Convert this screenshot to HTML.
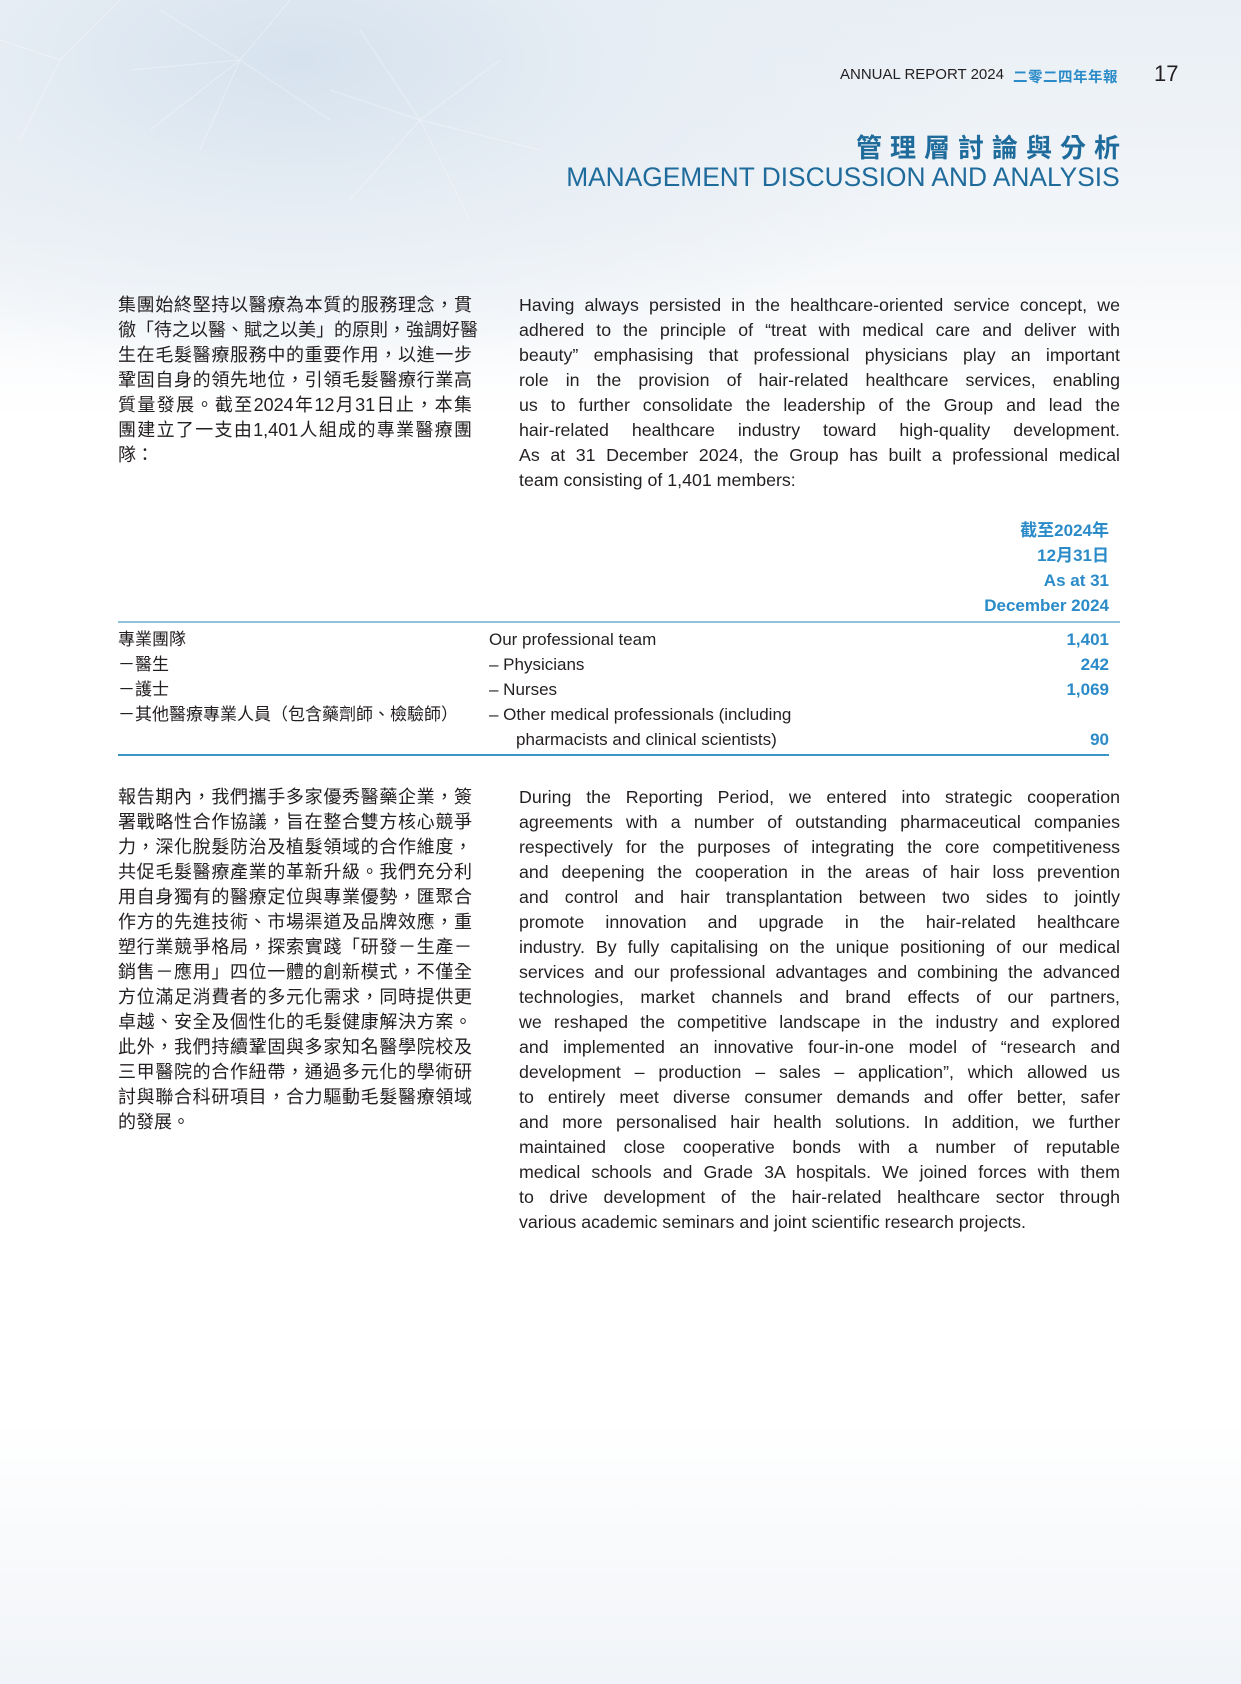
<!DOCTYPE html>
<html><head><meta charset="utf-8"><style>
*{margin:0;padding:0;box-sizing:border-box}
html,body{width:1241px;height:1684px;overflow:hidden}
body{position:relative;background:#fff;font-family:"Liberation Sans","Noto Sans CJK TC",sans-serif;color:#231f20}
.bg{position:absolute;left:0;top:0;width:1241px;height:420px;background:radial-gradient(ellipse 700px 330px at 300px 60px,#d6e2ee 0%,#e6edf4 45%,rgba(255,255,255,0) 100%),linear-gradient(180deg,#e9eff5 0%,#f2f5f8 50%,#fff 100%)}
.bg2{position:absolute;left:0;top:1420px;width:1241px;height:264px;background:linear-gradient(180deg,#fff 0%,#f1f4f8 100%)}
.a{position:absolute;white-space:nowrap}
.zh{font-family:"Liberation Sans","Noto Sans CJK TC",sans-serif}
.ln{position:absolute;height:25px;line-height:25px;font-size:17.5px;text-align:justify;text-align-last:justify;white-space:nowrap;overflow:visible}
.ln.l{text-align-last:left}
.zl{left:118px;width:354px;font-size:18px;letter-spacing:0}
.el{left:519px;width:601px;font-size:17.8px}
.b{color:#2a8bc8;font-weight:bold}
.r{position:absolute;font-size:17px;line-height:25px}
</style></head><body>
<div class="bg"></div><div class="bg2"></div>
<svg style="position:absolute;left:0;top:0" width="700" height="300">
<g stroke="#ffffff" stroke-opacity="0.35" stroke-width="1" fill="none">
<path d="M240 60 L160 10 M240 60 L130 70 M240 60 L200 150 M240 60 L290 0 M240 60 L330 120 M240 60 L150 130"/>
<path d="M420 120 L360 30 M420 120 L500 60 M420 120 L540 150 M420 120 L350 200 M420 120 L470 220 M420 120 L330 90"/>
<path d="M60 60 L0 40 M60 60 L120 0 M60 60 L20 140"/>
</g></svg>
<div class="a" style="left:840px;top:66px;font-size:15px;">ANNUAL REPORT 2024</div>
<div class="a zh" style="left:1013px;top:66px;font-size:14.5px;color:#2a8bc8;font-weight:bold;letter-spacing:0.5px">二零二四年年報</div>
<div class="a" style="left:1154px;top:61px;font-size:22px;">17</div>
<div class="a zh" style="right:121px;top:133px;font-size:26px;line-height:30px;color:#1f6c9c;font-weight:bold;letter-spacing:8px;margin-right:-8px">管理層討論與分析</div>
<div class="a" style="right:121px;top:161px;font-size:27px;line-height:32px;color:#1f6c9c;transform:scaleX(0.975);transform-origin:right center">MANAGEMENT DISCUSSION AND ANALYSIS</div>

<!-- para 1 zh -->
<div class="ln zl" style="top:293px">集團始終堅持以醫療為本質的服務理念，貫</div>
<div class="ln zl" style="top:318px">徹「待之以醫、賦之以美」的原則，強調好醫</div>
<div class="ln zl" style="top:343px">生在毛髮醫療服務中的重要作用，以進一步</div>
<div class="ln zl" style="top:368px">鞏固自身的領先地位，引領毛髮醫療行業高</div>
<div class="ln zl" style="top:393px">質量發展。截至2024年12月31日止，本集</div>
<div class="ln zl" style="top:418px">團建立了一支由1,401人組成的專業醫療團</div>
<div class="ln zl l" style="top:443px">隊：</div>
<!-- para 1 en -->
<div class="ln el" style="top:293px">Having always persisted in the healthcare-oriented service concept, we</div>
<div class="ln el" style="top:318px">adhered to the principle of “treat with medical care and deliver with</div>
<div class="ln el" style="top:343px">beauty” emphasising that professional physicians play an important</div>
<div class="ln el" style="top:368px">role in the provision of hair-related healthcare services, enabling</div>
<div class="ln el" style="top:393px">us to further consolidate the leadership of the Group and lead the</div>
<div class="ln el" style="top:418px">hair-related healthcare industry toward high-quality development.</div>
<div class="ln el" style="top:443px">As at 31 December 2024, the Group has built a professional medical</div>
<div class="ln el l" style="top:468px">team consisting of 1,401 members:</div>

<!-- table -->
<div class="r b" style="right:132px;top:518px">截至2024年</div>
<div class="r b" style="right:132px;top:543px">12月31日</div>
<div class="r b" style="right:132px;top:568px">As at 31</div>
<div class="r b" style="right:132px;top:593px">December 2024</div>
<div style="position:absolute;left:118px;top:621px;width:1002px;height:2px;background:#8ec3de"></div>
<div class="r" style="left:118px;top:627px">專業團隊</div>
<div class="r" style="left:118px;top:652px">－醫生</div>
<div class="r" style="left:118px;top:677px">－護士</div>
<div class="r" style="left:118px;top:702px">－其他醫療專業人員（包含藥劑師、檢驗師）</div>
<div class="r" style="left:489px;top:627px">Our professional team</div>
<div class="r" style="left:489px;top:652px">– Physicians</div>
<div class="r" style="left:489px;top:677px">– Nurses</div>
<div class="r" style="left:489px;top:702px">– Other medical professionals (including</div>
<div class="r" style="left:516px;top:727px">pharmacists and clinical scientists)</div>
<div class="r b" style="right:132px;top:627px">1,401</div>
<div class="r b" style="right:132px;top:652px">242</div>
<div class="r b" style="right:132px;top:677px">1,069</div>
<div class="r b" style="right:132px;top:727px">90</div>
<div style="position:absolute;left:118px;top:754px;width:991px;height:2px;background:#3a95c8"></div>

<!-- para 2 zh -->
<div class="ln zl" style="top:785px">報告期內，我們攜手多家優秀醫藥企業，簽</div>
<div class="ln zl" style="top:810px">署戰略性合作協議，旨在整合雙方核心競爭</div>
<div class="ln zl" style="top:835px">力，深化脫髮防治及植髮領域的合作維度，</div>
<div class="ln zl" style="top:860px">共促毛髮醫療產業的革新升級。我們充分利</div>
<div class="ln zl" style="top:885px">用自身獨有的醫療定位與專業優勢，匯聚合</div>
<div class="ln zl" style="top:910px">作方的先進技術、市場渠道及品牌效應，重</div>
<div class="ln zl" style="top:935px">塑行業競爭格局，探索實踐「研發－生產－</div>
<div class="ln zl" style="top:960px">銷售－應用」四位一體的創新模式，不僅全</div>
<div class="ln zl" style="top:985px">方位滿足消費者的多元化需求，同時提供更</div>
<div class="ln zl" style="top:1010px">卓越、安全及個性化的毛髮健康解決方案。</div>
<div class="ln zl" style="top:1035px">此外，我們持續鞏固與多家知名醫學院校及</div>
<div class="ln zl" style="top:1060px">三甲醫院的合作紐帶，通過多元化的學術研</div>
<div class="ln zl" style="top:1085px">討與聯合科研項目，合力驅動毛髮醫療領域</div>
<div class="ln zl l" style="top:1110px">的發展。</div>
<!-- para 2 en -->
<div class="ln el" style="top:785px">During the Reporting Period, we entered into strategic cooperation</div>
<div class="ln el" style="top:810px">agreements with a number of outstanding pharmaceutical companies</div>
<div class="ln el" style="top:835px">respectively for the purposes of integrating the core competitiveness</div>
<div class="ln el" style="top:860px">and deepening the cooperation in the areas of hair loss prevention</div>
<div class="ln el" style="top:885px">and control and hair transplantation between two sides to jointly</div>
<div class="ln el" style="top:910px">promote innovation and upgrade in the hair-related healthcare</div>
<div class="ln el" style="top:935px">industry. By fully capitalising on the unique positioning of our medical</div>
<div class="ln el" style="top:960px">services and our professional advantages and combining the advanced</div>
<div class="ln el" style="top:985px">technologies, market channels and brand effects of our partners,</div>
<div class="ln el" style="top:1010px">we reshaped the competitive landscape in the industry and explored</div>
<div class="ln el" style="top:1035px">and implemented an innovative four-in-one model of “research and</div>
<div class="ln el" style="top:1060px">development – production – sales – application”, which allowed us</div>
<div class="ln el" style="top:1085px">to entirely meet diverse consumer demands and offer better, safer</div>
<div class="ln el" style="top:1110px">and more personalised hair health solutions. In addition, we further</div>
<div class="ln el" style="top:1135px">maintained close cooperative bonds with a number of reputable</div>
<div class="ln el" style="top:1160px">medical schools and Grade 3A hospitals. We joined forces with them</div>
<div class="ln el" style="top:1185px">to drive development of the hair-related healthcare sector through</div>
<div class="ln el l" style="top:1210px">various academic seminars and joint scientific research projects.</div>
</body></html>
